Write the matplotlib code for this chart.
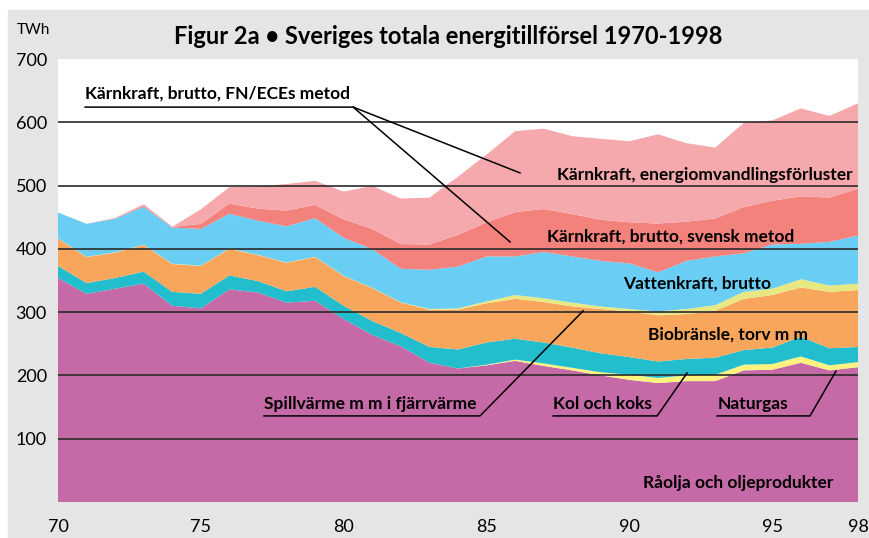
import numpy as np
import matplotlib.pyplot as plt
from matplotlib.patches import Rectangle

# Years 1970-1998
years = np.arange(1970, 1999)

# TWh per layer, bottom to top
olja = [354, 329, 337, 345, 310, 306, 336, 331, 315, 318, 289, 264, 246, 220, 211,
        216, 223, 215, 208, 200, 193, 188, 191, 191, 208, 209, 220, 208, 213]
naturgas = [0, 0, 0, 0, 0, 0, 0, 0, 0, 0, 0, 0, 0, 0, 0,
            1, 2, 4, 4, 5, 8, 8, 9, 10, 9, 9, 10, 8, 8]
kol = [19, 17, 17, 19, 22, 23, 22, 18, 18, 22, 21, 22, 21, 25, 30,
       35, 33, 33, 32, 30, 28, 26, 26, 27, 23, 26, 31, 27, 24]
bio = [43, 41, 40, 42, 44, 44, 42, 41, 45, 47, 47, 52, 48, 59, 63,
       62, 63, 64, 65, 70, 72, 73, 71, 74, 81, 83, 78, 89, 90]
spill = [0.5, 0.5, 0.5, 0.5, 0.5, 0.5, 0.5, 0.5, 0.5, 0.5, 0.5, 0.5, 0.5, 1, 2,
         3, 6, 6, 6, 4, 4, 6, 8, 9, 11, 10, 13, 10, 10]
vatten = [41, 52, 53, 60, 57, 58, 55, 54, 57, 61, 60, 61, 53, 62, 66,
          71, 61, 73, 73, 72, 72, 62, 76, 77, 61, 70, 56, 69, 76]
karn_svensk = [0, 0, 0.5, 2, 1, 8, 16, 19, 25, 21, 29, 32, 39, 40, 50,
               54, 70, 68, 67, 65, 65, 77, 62, 60, 73, 69, 75, 70, 74]
karn_forlust = [0, 0, 1, 2, 0.5, 23, 26, 35, 42, 38, 44, 68, 72, 74, 92,
                107, 128, 127, 123, 128, 128, 141, 124, 112, 133, 127, 139, 129, 135]

colors = ['#c56aa6', '#fff27e', '#22becd', '#f7a65c', '#e8e882',
          '#6acdf3', '#f3827d', '#f6a9ac']

yticks = [100, 200, 300, 400, 500, 600, 700]
xticks = [1970, 1975, 1980, 1985, 1990, 1995, 1998]
xticklabels = ['70', '75', '80', '85', '90', '95', '98']

plt.rcParams['font.family'] = ['Lato', 'DejaVu Sans']

fig = plt.figure(figsize=(8.7, 5.38), dpi=100)
# grey panel behind everything
fig.patches.append(Rectangle((8/870, 0), 1, 1 - 10/538, transform=fig.transFigure,
                             color='#e5e5e5', zorder=-10))
ax = fig.add_axes([58/870, 36/538, 800/870, 443/538])
ax.set_facecolor('white')

ax.stackplot(years, olja, naturgas, kol, bio, spill, vatten, karn_svensk,
             karn_forlust, colors=colors, linewidth=0)

# Horizontal lines over the areas
for v in yticks[:-1]:
    ax.axhline(v, color='#2a2a2a', lw=1.2, zorder=5)

ax.set_xlim(1970, 1998)
ax.set_ylim(0, 700)
ax.set_yticks(yticks)
ax.set_yticklabels([str(v) for v in yticks], fontsize=13)
ax.set_xticks(xticks)
ax.set_xticklabels(xticklabels, fontsize=13)
ax.tick_params(length=0, pad=8)
ax.tick_params(axis='x', pad=12)
for s in ax.spines.values():
    s.set_visible(False)

fig.text(448/870, 1 - 37/538, 'Figur 2a \u2022 Sveriges totala energitillförsel 1970-1998',
         ha='center', va='center', fontsize=17, fontweight='bold')
fig.text(17/870, 1 - 30/538, 'TWh', ha='left', va='center', fontsize=11)

lab = dict(fontsize=12.5, fontweight='bold', va='center', zorder=7)
ln = dict(color='black', lw=1.1, zorder=7, clip_on=False)

ax.text(1970.95, 645, 'Kärnkraft, brutto, FN/ECEs metod', ha='left', **lab)
ax.plot([1970.95, 1980.33, 1986.17], [624, 624, 520], **ln)
ax.plot([1980.33, 1985.82], [624, 411], **ln)

ax.text(1987.47, 517, 'Kärnkraft, energiomvandlingsförluster', ha='left', **lab)
ax.text(1987.12, 419, 'Kärnkraft, brutto, svensk metod', ha='left', **lab)
ax.text(1989.78, 346, 'Vattenkraft, brutto', ha='left', **lab)
ax.text(1990.65, 264, 'Biobränsle, torv m m', ha='left', **lab)

ax.text(1977.21, 155, 'Spillvärme m m i fjärrvärme', ha='left', **lab)
ax.plot([1977.21, 1984.77, 1988.38], [136, 136, 302], **ln)

ax.text(1987.33, 155, 'Kol och koks', ha='left', **lab)
ax.plot([1987.33, 1990.97, 1992.02], [136, 136, 204], **ln)

ax.text(1993.07, 155, 'Naturgas', ha='left', **lab)
ax.plot([1993.07, 1996.32, 1997.23], [136, 136, 207], **ln)

ax.text(1997.13, 30, 'Råolja och oljeprodukter', ha='right', **lab)

fig.savefig('out.png', dpi=100)
